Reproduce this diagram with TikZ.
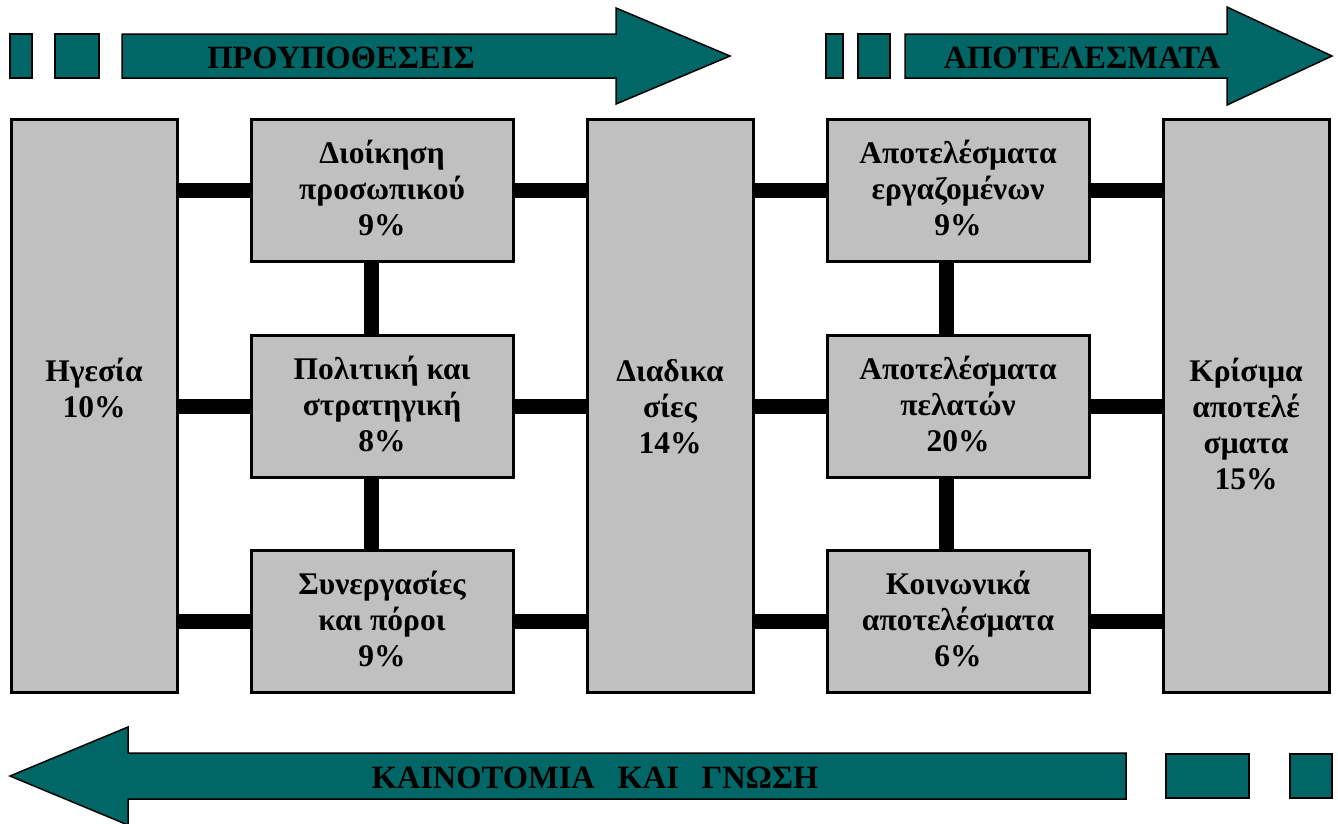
\documentclass[tikz,border=0pt]{standalone}
\usepackage{fontspec}
\setmainfont{Liberation Serif}
\usetikzlibrary{backgrounds}
\definecolor{boxgray}{HTML}{C0C0C0}
\definecolor{teal}{HTML}{006666}
\begin{document}
\begin{tikzpicture}[x=1pt,y=-1pt,
  bigbox/.style={draw=black,line width=3pt,fill=boxgray,rectangle,inner sep=0pt,outer sep=0pt,
    minimum width=166pt,minimum height=573pt},
  smallbox/.style={draw=black,line width=3pt,fill=boxgray,rectangle,inner sep=0pt,outer sep=0pt,
    minimum width=262pt,minimum height=142pt,align=center,text depth=6pt,
    font=\bfseries\fontsize{31.5}{36}\selectfont},
  boxtext/.style={align=center,inner sep=0pt,font=\bfseries\fontsize{31.5}{36}\selectfont},
  link/.style={line width=15pt,black},
  band/.style={fill=teal,draw=black,line width=1.5pt,line join=miter},
  bandtext/.style={inner sep=0pt,font=\bfseries\fontsize{32.5}{36}\selectfont}]
\useasboundingbox (0,0) rectangle (1338,823);

% direction bands
\draw[band] (10,34) rectangle (32,78);
\draw[band] (55,34) rectangle (99,78);
\draw[band] (122,34) -- (616,34) -- (616,8) -- (730,56) -- (616,104) -- (616,78) -- (122,78) -- cycle;
\node[bandtext] (pre) at (341,57.5) {ΠΡΟΥΠΟΘΕΣΕΙΣ};

\draw[band] (826,34) rectangle (843,78);
\draw[band] (858,34) rectangle (890,78);
\draw[band] (905,34) -- (1227,34) -- (1227,7) -- (1332,56) -- (1227,105) -- (1227,78) -- (905,78) -- cycle;
\node[bandtext] (res) at (1082,57.5) {ΑΠΟΤΕΛΕΣΜΑΤΑ};

\draw[band] (1126,753) -- (128,753) -- (128,727) -- (10,776) -- (128,825) -- (128,799) -- (1126,799) -- cycle;
\draw[band] (1166,754) rectangle (1249,798);
\draw[band] (1290,754) rectangle (1332,798);
\node[bandtext] (inn) at (595,777.5) {ΚΑΙΝΟΤΟΜΙΑ\hspace{0.7em}ΚΑΙ\hspace{0.7em}ΓΝΩΣΗ};

% boxes
\node[bigbox] (hg) at (94,405.5) {};
\node[bigbox] (di) at (670,405.5) {};
\node[bigbox] (kr) at (1246,405.5) {};
\node[smallbox] (dp) at (382,190.5) {Διοίκηση\\προσωπικού\\9\%};
\node[smallbox] (ps) at (382,406.5) {Πολιτική και\\στρατηγική\\8\%};
\node[smallbox] (sp) at (382,621.5) {Συνεργασίες\\και πόροι\\9\%};
\node[smallbox] (ae) at (958,190.5) {Αποτελέσματα\\εργαζομένων\\9\%};
\node[smallbox] (ap) at (958,406.5) {Αποτελέσματα\\πελατών\\20\%};
\node[smallbox] (ka) at (958,621.5) {Κοινωνικά\\αποτελέσματα\\6\%};

% labels of the tall boxes
\node[boxtext] (hgt) at (94,388) {Ηγεσία\\10\%};
\node[boxtext] (dit) at (670,407) {Διαδικα\\σίες\\14\%};
\node[boxtext] (krt) at (1246,424) {Κρίσιμα\\αποτελέ\\σματα\\15\%};

% connectors, behind the boxes
\begin{scope}[on background layer]
  \foreach \a/\b in {dp/hg,ps/hg,sp/hg,dp/di,ps/di,sp/di,ae/di,ap/di,ka/di,ae/kr,ap/kr,ka/kr}
    \draw[link] (\a.center) -- (\a.center -| \b.center);
  \draw[link] ([xshift=-11pt]dp.center) -- ([xshift=-11pt]sp.center);
  \draw[link] ([xshift=-12pt]ae.center) -- ([xshift=-12pt]ka.center);
\end{scope}
\end{tikzpicture}
\end{document}
